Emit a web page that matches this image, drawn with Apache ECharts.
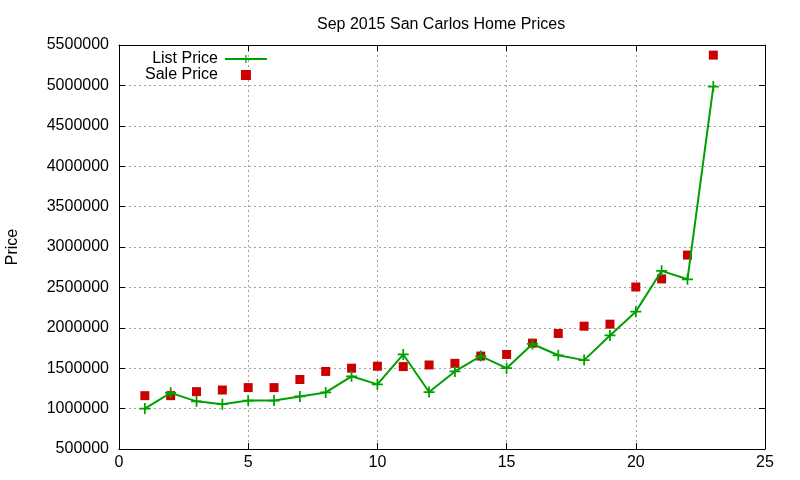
<!DOCTYPE html>
<html>
<head>
<meta charset="utf-8">
<script src="https://cdn.jsdelivr.net/npm/echarts@6/dist/echarts.min.js"></script>
<style>
  html, body { margin: 0; padding: 0; background: #fff; }
  #chart { width: 800px; height: 480px; }
</style>
</head>
<body>
<div id="chart"></div>
<script>
// data
var days = [1, 2, 3, 4, 5, 6, 7, 8, 9, 10, 11, 12, 13, 14, 15, 16, 17, 18, 19, 20, 21, 22, 23];
var listPrice = [1000000, 1195000, 1090000, 1055000, 1100000, 1100000, 1150000, 1200000, 1400000, 1300000,
                 1670000, 1205000, 1460000, 1650000, 1500000, 1800000, 1660000, 1600000, 1905000, 2200000,
                 2705000, 2600000, 4985000];
var salePrice = [1160000, 1160000, 1210000, 1230000, 1260000, 1260000, 1360000, 1460000, 1500000, 1525000,
                 1520000, 1540000, 1560000, 1650000, 1670000, 1810000, 1930000, 2020000, 2045000, 2505000,
                 2605000, 2900000, 5375000];
var xTicks = [0, 5, 10, 15, 20, 25];
var yTicks = [500000, 1000000, 1500000, 2000000, 2500000, 3000000, 3500000, 4000000, 4500000, 5000000, 5500000];

var chart = echarts.init(document.getElementById('chart'));
var font = 'Liberation Sans';
var crossIcon = 'path://M0,4.2L10,4.2L10,5.8L0,5.8Z M4.2,0L5.8,0L5.8,10L4.2,10Z';
var squareIcon = 'path://M0,0L10,0L10,10L0,10Z';

// gnuplot-style box: ticks inside on all four sides
function xAx(pos, main) {
    return {
        type: 'value', position: pos,
        min: xTicks[0], max: xTicks[xTicks.length - 1], interval: 5,
        axisLine: { show: true, onZero: false, lineStyle: { color: '#000', width: 1 } },
        axisTick: { show: true, inside: true, length: 6, lineStyle: { color: '#000' } },
        axisLabel: { show: main, color: '#000', fontFamily: font, fontSize: 16, margin: 6 },
        splitLine: { show: main, lineStyle: { color: '#a0a0a0', type: [2, 3] } }
    };
}
function yAx(pos, main) {
    return {
        type: 'value', position: pos,
        min: yTicks[0], max: yTicks[yTicks.length - 1], interval: 500000,
        name: main ? 'Price' : '',
        nameLocation: 'middle', nameGap: 98,
        nameTextStyle: { color: '#000', fontFamily: font, fontSize: 16 },
        axisLine: { show: true, onZero: false, lineStyle: { color: '#000', width: 1 } },
        axisTick: { show: true, inside: true, length: 6, lineStyle: { color: '#000' } },
        axisLabel: {
            show: main, color: '#000', fontFamily: font, fontSize: 16, margin: 10,
            formatter: function (v) { return String(v); }
        },
        splitLine: { show: main, lineStyle: { color: '#a0a0a0', type: [2, 3] } }
    };
}

var option = {
    backgroundColor: '#fff',
    animation: false,
    title: {
        text: 'Sep 2015 San Carlos Home Prices',
        left: 312, top: 12,
        textStyle: { color: '#000', fontFamily: font, fontSize: 16, fontWeight: 'normal' }
    },
    legend: {
        orient: 'vertical',
        align: 'right',
        left: 140, top: 46,
        itemWidth: 42, itemHeight: 10, itemGap: 0,
        symbolKeepAspect: true,
        textStyle: { color: '#000', fontFamily: font, fontSize: 16, lineHeight: 14, padding: [0, 2, 0, 0] },
        data: [
            { name: 'List Price' },
            { name: 'Sale Price', icon: squareIcon }
        ]
    },
    grid: { left: 119, right: 35, top: 45, bottom: 31, containLabel: false, outerBoundsMode: 'none' },
    xAxis: [xAx('bottom', true), xAx('top', false)],
    yAxis: [yAx('left', true), yAx('right', false)],
    series: [
        {
            name: 'List Price',
            type: 'line',
            data: days.map(function (d, i) { return [d, listPrice[i]]; }),
            symbol: crossIcon,
            symbolSize: 11,
            showAllSymbol: true,
            lineStyle: { color: '#00a000', width: 2 },
            itemStyle: { color: '#00a000' },
            z: 3
        },
        {
            name: 'Sale Price',
            type: 'scatter',
            data: days.map(function (d, i) { return [d, salePrice[i]]; }),
            symbol: 'rect',
            symbolSize: 9,
            itemStyle: { color: '#cc0000', opacity: 1 },
            z: 2
        }
    ]
};
chart.setOption(option);
</script>
</body>
</html>
